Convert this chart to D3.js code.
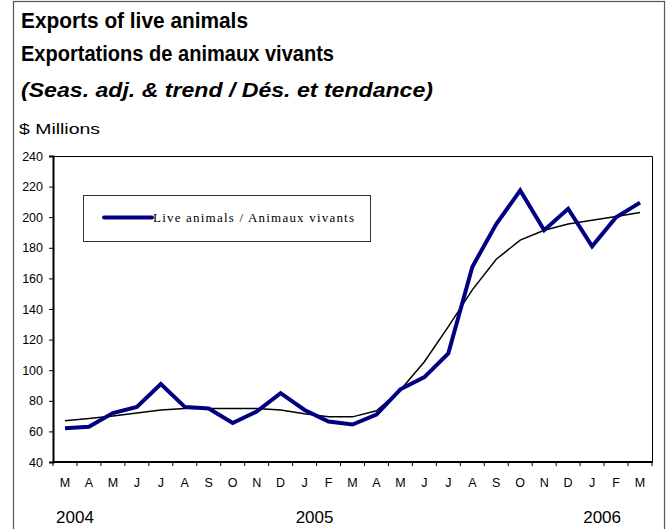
<!DOCTYPE html>
<html><head><meta charset="utf-8">
<script src="https://cdn.jsdelivr.net/npm/d3@7"></script>
<style>body{margin:0;background:#fff}svg{display:block}</style>
</head><body>
<svg id="c" width="667" height="529"></svg>
<script>
const months = ["M","A","M","J","J","A","S","O","N","D","J","F","M","A","M","J","J","A","S","O","N","D","J","F","M"];
const periods = d3.range(months.length);
const liveAnimals = [62,63,72,76,91,76,75,65.5,73,85,74,66.5,64.5,71,87.5,95.5,111,167.5,195.5,217.5,191.5,205.5,181,200,209.5];
const trend = [67,68.5,70,72,74,75,75,75,75,74,71.5,69.5,69.5,73.5,87,105.5,128.5,152.5,172.5,185,191.5,195.5,198,200.5,203];
const yTicks = [40,60,80,100,120,140,160,180,200,220,240];
const years = [{label:"2004", at:0},{label:"2005", at:10},{label:"2006", at:22}];
const legendLabel = "Live animals / Animaux vivants";

const svg = d3.select("#c");
const m = {l:53, r:652, t:156, b:462};
const x = d3.scaleBand().domain(periods).range([m.l, m.r]).padding(0);
const y = d3.scaleLinear().domain([40,240]).range([m.b, m.t]);
const cx = i => x(i) + x.bandwidth()/2;

// outer frame
svg.append("rect").attr("x",13.5).attr("y",1.5).attr("width",651).attr("height",540)
  .attr("fill","none").attr("stroke","#555").attr("stroke-width",1.2);

// titles
const tf = "'Liberation Sans', Arial, sans-serif";
svg.append("text").attr("x",21).attr("y",28).attr("font-family",tf).attr("font-weight","bold").attr("font-size",21.5)
  .attr("textLength",227).attr("lengthAdjust","spacingAndGlyphs").text("Exports of live animals");
svg.append("text").attr("x",21).attr("y",61).attr("font-family",tf).attr("font-weight","bold").attr("font-size",21.5)
  .attr("textLength",313).attr("lengthAdjust","spacingAndGlyphs").text("Exportations de animaux vivants");
svg.append("text").attr("x",21).attr("y",97).attr("font-family",tf).attr("font-weight","bold").attr("font-style","italic").attr("font-size",21)
  .attr("textLength",412).attr("lengthAdjust","spacingAndGlyphs").text("(Seas. adj. & trend / Dés. et tendance)");
svg.append("text").attr("x",19).attr("y",134).attr("font-family",tf).attr("font-size",15)
  .attr("textLength",81).attr("lengthAdjust","spacingAndGlyphs").text("$ Millions");

// plot frame top/right
svg.append("path").attr("d",`M${m.l},${m.t+0.5}H${m.r+0.5}V${m.b}`).attr("fill","none").attr("stroke","#000").attr("stroke-width",1);

// y axis
const ya = svg.append("g").attr("transform",`translate(${m.l},0)`)
  .call(d3.axisLeft(y).tickValues(yTicks).tickSize(4).tickPadding(6));
ya.select(".domain").attr("stroke-width",2);
ya.selectAll("text").attr("font-family",tf).attr("font-size",12.5).attr("fill","#000");

// x axis
const xa = svg.append("g").attr("transform",`translate(0,${m.b})`)
  .call(d3.axisBottom(x).tickSize(0).tickFormat(i=>months[i]).tickPadding(16));
xa.select(".domain").attr("stroke-width",1.8).attr("d",`M${m.l},0H${m.r+1}`);
xa.selectAll("text").attr("font-family",tf).attr("font-size",12.5).attr("fill","#000");
svg.append("g").selectAll("line").data(d3.range(months.length+1)).join("line")
  .attr("x1",i=> i<months.length ? x(i) : m.r).attr("x2",i=> i<months.length ? x(i) : m.r)
  .attr("y1",m.b).attr("y2",m.b+4).attr("stroke","#000").attr("stroke-width",1);

// year labels
svg.append("g").selectAll("text").data(years).join("text")
  .attr("x",d=>cx(d.at)+10).attr("y",523).attr("text-anchor","middle")
  .attr("font-family",tf).attr("font-size",17).text(d=>d.label);

// lines
const line = d3.line().x((d,i)=>cx(i)).y(d=>y(d));
svg.append("path").datum(trend).attr("d",line).attr("fill","none").attr("stroke","#000").attr("stroke-width",1.5);
svg.append("path").datum(liveAnimals).attr("d",line).attr("fill","none").attr("stroke","#000080").attr("stroke-width",4).attr("stroke-linejoin","miter");

// legend
svg.append("rect").attr("x",83.5).attr("y",195.5).attr("width",287).attr("height",46)
  .attr("fill","#fff").attr("stroke","#333").attr("stroke-width",1);
svg.append("line").attr("x1",104).attr("x2",152).attr("y1",217.5).attr("y2",217.5).attr("stroke","#000080").attr("stroke-width",4).attr("stroke-linecap","round");
svg.append("text").attr("x",153).attr("y",222).attr("font-family","'Liberation Serif','Times New Roman',serif")
  .attr("font-size",13).attr("textLength",201).attr("lengthAdjust","spacing").text(legendLabel);
</script>
</body></html>
